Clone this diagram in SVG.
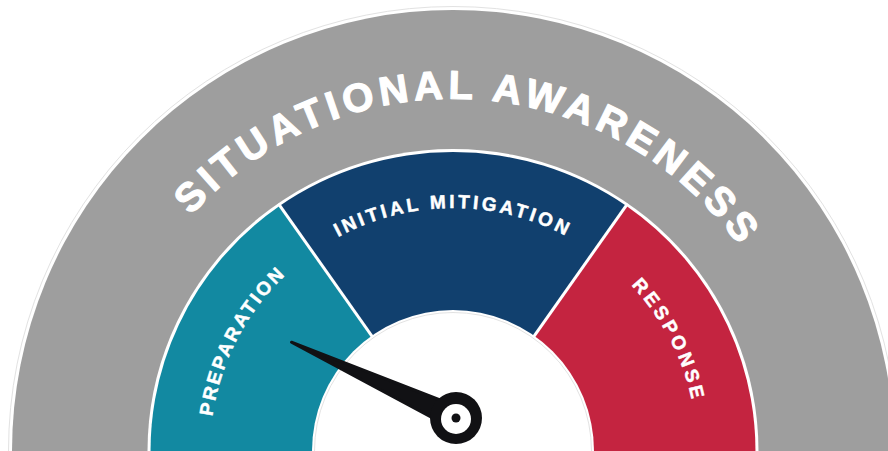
<svg xmlns="http://www.w3.org/2000/svg" width="888" height="451" viewBox="0 0 888 451">
  <style>
    .lbl { font-family: "Liberation Sans", Arial, sans-serif; font-weight: bold; fill: #ffffff; stroke: #ffffff; stroke-linejoin: round; }
    .big { font-size: 40px; letter-spacing: 4.9px; stroke-width: 1.2; }
    .small { font-size: 19px; stroke-width: 0.5; }
    .sep { stroke: #ffffff; stroke-width: 3; }
  </style>
  <defs>
    <path id="arcOuter" d="M 106.3 389.9 A 352 352 0 0 1 804.5 432.6"/>
    <path id="arcPrep" d="M 213.7 493.2 A 243 243 0 0 1 350.3 230.8"/>
    <path id="arcInit" d="M 281.2 279.2 A 243 243 0 0 1 624.8 279.2"/>
    <path id="arcResp" d="M 557.2 231.8 A 243 243 0 0 1 693.8 494.2"/>
  </defs>

  <rect x="0" y="0" width="888" height="451" fill="#ffffff"/>

  <g id="situational-awareness">
    <circle cx="453" cy="451" r="444.5" fill="#ffffff" stroke="#e2e2e2" stroke-width="1"/>
    <circle cx="453" cy="451" r="441" fill="#9e9e9e"/>
    <text class="lbl big"><textPath href="#arcOuter" startOffset="50%" text-anchor="middle">SITUATIONAL AWARENESS</textPath></text>
    <ellipse cx="453" cy="451" rx="305.5" ry="302" fill="#ffffff"/>
  </g>

  <g id="preparation">
    <path d="M 453 451 L 151.7 477.1 A 302.5 299 0 0 1 279.5 206.1 Z" fill="#1289a1"/>
    <text class="lbl small" letter-spacing="2.6"><textPath href="#arcPrep" startOffset="50%" text-anchor="middle">PREPARATION</textPath></text>
  </g>

  <g id="initial-mitigation">
    <path d="M 453 451 L 279.5 206.1 A 302.5 299 0 0 1 626.5 206.1 Z" fill="#11406e"/>
    <text class="lbl small" letter-spacing="3.2"><textPath href="#arcInit" startOffset="50%" text-anchor="middle">INITIAL MITIGATION</textPath></text>
  </g>

  <g id="response">
    <path d="M 453 451 L 626.5 206.1 A 302.5 299 0 0 1 754.3 477.1 Z" fill="#c42440"/>
    <text class="lbl small" letter-spacing="3.6"><textPath href="#arcResp" startOffset="50%" text-anchor="middle">RESPONSE</textPath></text>
  </g>

  <g id="dividers">
    <line class="sep" x1="453" y1="451" x2="278.4" y2="203.6"/>
    <line class="sep" x1="453" y1="451" x2="627.6" y2="203.6"/>
  </g>

  <g id="center">
    <circle cx="453" cy="451" r="141" fill="#ffffff"/>
    <circle cx="453" cy="451" r="138.5" fill="none" stroke="#dadada" stroke-width="0.8"/>
  </g>

  <g id="needle">
    <polygon points="291.5,342.2 460.6,408 451.4,428" fill="#111114" stroke="#111114" stroke-width="3" stroke-linejoin="round"/>
    <circle cx="456" cy="418" r="26" fill="#111114"/>
    <circle cx="456" cy="419" r="15" fill="#ffffff"/>
    <circle cx="456" cy="418" r="4.5" fill="#111114"/>
  </g>
</svg>
